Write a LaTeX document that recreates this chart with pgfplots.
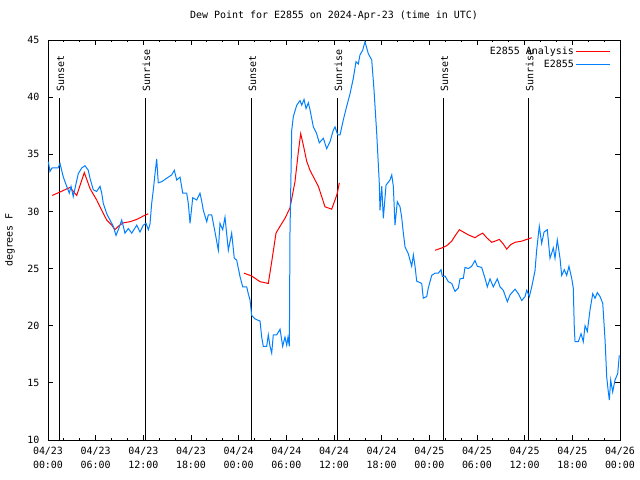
\documentclass[border=0pt]{standalone}
\usepackage{fontspec}
\setmainfont{DejaVu Sans Mono}
\usepackage{pgfplots}
\pgfplotsset{compat=1.18}
\definecolor{gred}{RGB}{255,0,0}
\definecolor{gblue}{RGB}{0,128,255}
\begin{document}
\begin{tikzpicture}[font=\fontsize{10}{12}\selectfont]
\begin{axis}[
 scale only axis, width=572bp, height=400bp,
 at={(0,0)}, anchor=south west,
 xmin=0, xmax=72, ymin=10, ymax=45,
 xtick={0,6,...,72},
 xticklabels={{04/23\\00:00},{04/23\\06:00},{04/23\\12:00},{04/23\\18:00},{04/24\\00:00},{04/24\\06:00},{04/24\\12:00},{04/24\\18:00},{04/25\\00:00},{04/25\\06:00},{04/25\\12:00},{04/25\\18:00},{04/26\\00:00}},
 xticklabel style={align=center, font=\fontsize{10}{14}\selectfont, yshift=-4bp},
 yticklabel style={xshift=-5bp},
 minor x tick num=2,
 ytick={10,15,...,45},
 tick align=inside,
 major tick length=5bp, minor tick length=2.5bp,
 tick style={black, line width=0.8bp},
 axis line style={line width=0.8bp},
 /pgf/number format/assume math mode=true,
 ylabel={degrees F},
 ylabel style={at={(axis description cs:-0.0664,0.5)}, anchor=center},
 title={Dew Point for E2855 on 2024-Apr-23 (time in UTC)},
 title style={at={(0.5,1)}, anchor=base, yshift=16bp},
 legend style={draw=none, fill=none, at={(1,1)}, anchor=north east, xshift=-9bp, yshift=-5bp, inner sep=0pt, row sep=0bp, cells={anchor=east}},
 legend plot pos=right,
 legend image code/.code={\path (-2bp,0bp) -- (3bp,0bp); \draw[#1] (3bp,0bp) -- (32bp,0bp);},
]
% sunrise / sunset lines
\addplot[black, line width=0.8bp, forget plot] coordinates {(1.43,10) (1.43,39.9)};
\addplot[black, line width=0.8bp, forget plot] coordinates {(12.25,10) (12.25,39.9)};
\addplot[black, line width=0.8bp, forget plot] coordinates {(25.6,10) (25.6,39.9)};
\addplot[black, line width=0.8bp, forget plot] coordinates {(36.42,10) (36.42,39.9)};
\addplot[black, line width=0.8bp, forget plot] coordinates {(49.77,10) (49.77,39.9)};
\addplot[black, line width=0.8bp, forget plot] coordinates {(60.47,10) (60.47,39.9)};
\node[rotate=90, anchor=west, inner sep=0pt] at (axis cs:1.58,40.45) {Sunset};
\node[rotate=90, anchor=west, inner sep=0pt] at (axis cs:12.40,40.45) {Sunrise};
\node[rotate=90, anchor=west, inner sep=0pt] at (axis cs:25.75,40.45) {Sunset};
\node[rotate=90, anchor=west, inner sep=0pt] at (axis cs:36.57,40.45) {Sunrise};
\node[rotate=90, anchor=west, inner sep=0pt] at (axis cs:49.92,40.45) {Sunset};
\node[rotate=90, anchor=west, inner sep=0pt] at (axis cs:60.62,40.45) {Sunrise};
% analysis
\addplot[gred, line width=1bp] coordinates {
(0.54,31.4) (1.51,31.7) (2.77,32.1) (3.61,31.4) (4.57,33.4) (5.29,32.0) (6.13,31.0) (6.76,30.1) (7.39,29.25) (8.02,28.8) (8.43,28.4) (8.85,28.7) (9.48,29.0) (10.32,29.1) (11.17,29.3) (12.0,29.6) (12.63,29.8)};
\addlegendentry{E2855 Analysis}
\addplot[gred, line width=1bp, forget plot] coordinates {
(24.67,24.6) (25.64,24.35) (26.69,23.85) (27.73,23.7) (28.16,25.6) (28.70,28.1) (29.21,28.7) (29.83,29.4) (30.46,30.3) (31.09,32.6) (31.51,35.2) (31.81,36.8) (32.14,35.8) (32.56,34.4) (32.98,33.6) (33.61,32.75) (34.03,32.2) (34.45,31.3) (34.87,30.4) (35.71,30.2) (36.13,31.0) (36.42,31.6) (36.67,32.5)};
\addplot[gred, line width=1bp, forget plot] coordinates {
(48.72,26.6) (49.56,26.8) (50.19,27.0) (50.82,27.4) (51.23,27.85) (51.78,28.4) (52.28,28.2) (52.91,27.95) (53.75,27.7) (54.17,27.9) (54.72,28.1) (55.22,27.7) (55.85,27.3) (56.27,27.4) (56.81,27.55) (57.31,27.15) (57.74,26.7) (58.24,27.1) (58.79,27.3) (59.63,27.4) (60.26,27.55) (60.89,27.7)};
% observations
\addplot[gblue, line width=1bp] coordinates {
(0.04,34.35) (0.25,33.5) (0.5,33.8) (1.26,33.8) (1.51,34.2) (1.93,33.0) (2.35,32.2) (2.68,31.6) (2.9,32.2) (3.18,31.3) (3.49,32.3) (3.81,33.3) (4.24,33.8) (4.66,34.0) (5.07,33.6) (5.29,32.9) (5.70,31.9) (6.13,31.75) (6.55,32.2) (6.76,31.6) (6.96,30.7) (7.39,29.8) (7.80,29.25) (8.22,28.7) (8.56,27.9) (8.85,28.4) (9.28,29.25) (9.69,28.1) (10.11,28.5) (10.54,28.1) (11.17,28.8) (11.58,28.2) (12.0,28.8) (12.34,28.96) (12.63,28.4) (12.84,28.9) (13.05,30.7) (13.26,31.9) (13.47,33.3) (13.68,34.6) (13.88,32.5) (14.31,32.6) (14.94,32.9) (15.57,33.2) (15.90,33.6) (16.20,32.75) (16.62,33.0) (16.96,31.6) (17.46,31.6) (17.66,30.7) (17.88,28.96) (18.22,31.2) (18.72,31.0) (19.13,31.6) (19.35,30.9) (19.55,30.1) (19.98,29.1) (20.18,29.7) (20.61,29.7) (20.81,28.96) (21.02,28.2) (21.44,26.6) (21.65,28.96) (21.99,28.4) (22.28,29.5) (22.70,26.6) (23.12,28.1) (23.45,25.9) (23.75,25.75) (24.17,24.3) (24.51,23.4) (25.01,23.4) (25.21,22.8) (25.43,22.25) (25.64,20.9) (26.06,20.6) (26.69,20.4) (26.90,19.0) (27.10,18.2) (27.53,18.2) (27.73,19.2) (27.95,18.2) (28.16,17.6) (28.36,19.2) (28.79,19.2) (29.21,19.7) (29.54,18.2) (29.83,19.0) (30.05,18.3) (30.21,19.0) (30.38,18.2) (30.46,28.1) (30.68,37.1) (30.88,38.3) (31.31,39.3) (31.72,39.7) (31.94,39.3) (32.23,39.8) (32.48,39.0) (32.77,39.5) (32.98,38.9) (33.40,37.4) (33.82,36.8) (34.15,36.0) (34.66,36.4) (35.08,35.5) (35.50,36.1) (35.91,37.1) (36.13,37.4) (36.47,36.7) (36.76,36.7) (37.17,38.0) (37.60,39.2) (38.02,40.3) (38.43,41.65) (38.77,43.1) (39.06,42.9) (39.27,43.7) (39.61,44.1) (39.90,44.85) (40.32,43.8) (40.75,43.25) (41.04,40.6) (41.38,36.8) (41.70,32.5) (41.79,30.1) (42.01,32.2) (42.21,29.4) (42.55,32.3) (43.05,32.75) (43.27,33.2) (43.47,32.2) (43.68,28.8) (43.97,30.85) (44.31,30.4) (44.52,29.5) (44.73,28.1) (44.94,26.9) (45.35,26.3) (45.78,25.2) (45.99,26.2) (46.20,25.2) (46.41,23.9) (47.04,23.7) (47.24,22.4) (47.67,22.55) (47.87,23.3) (48.30,24.4) (48.72,24.6) (49.13,24.6) (49.47,24.9) (49.64,24.3) (49.98,24.35) (50.39,23.85) (50.82,23.7) (51.23,23.0) (51.65,23.3) (51.86,24.1) (52.28,24.15) (52.49,25.1) (52.91,25.0) (53.33,25.2) (53.75,25.7) (54.04,25.2) (54.59,25.1) (55.01,24.15) (55.30,23.4) (55.64,24.1) (56.05,23.4) (56.56,24.1) (56.90,23.4) (57.31,23.1) (57.82,22.1) (58.16,22.7) (58.79,23.2) (59.20,22.8) (59.63,22.2) (60.05,22.55) (60.26,23.1) (60.59,22.55) (60.89,23.4) (61.30,24.8) (61.51,26.6) (61.84,28.7) (62.14,27.2) (62.44,28.2) (62.85,28.4) (63.19,25.9) (63.61,26.8) (63.82,25.9) (64.11,27.5) (64.45,25.9) (64.66,24.4) (64.99,24.9) (65.29,24.4) (65.58,25.2) (65.92,24.15) (66.12,23.3) (66.25,19.8) (66.34,18.6) (66.76,18.6) (67.10,19.3) (67.38,18.6) (67.60,20.0) (67.89,19.5) (68.23,21.4) (68.57,22.8) (68.86,22.4) (69.15,22.9) (69.49,22.55) (69.83,21.95) (70.12,18.75) (70.33,15.5) (70.53,14.2) (70.66,13.5) (70.83,15.25) (71.08,14.2) (71.37,15.25) (71.71,15.8) (71.91,17.4)};
\addlegendentry{E2855}
\end{axis}
\pgfresetboundingbox
\path[use as bounding box] (-48bp,-40bp) rectangle (592bp,440bp);
\end{tikzpicture}
\end{document}
